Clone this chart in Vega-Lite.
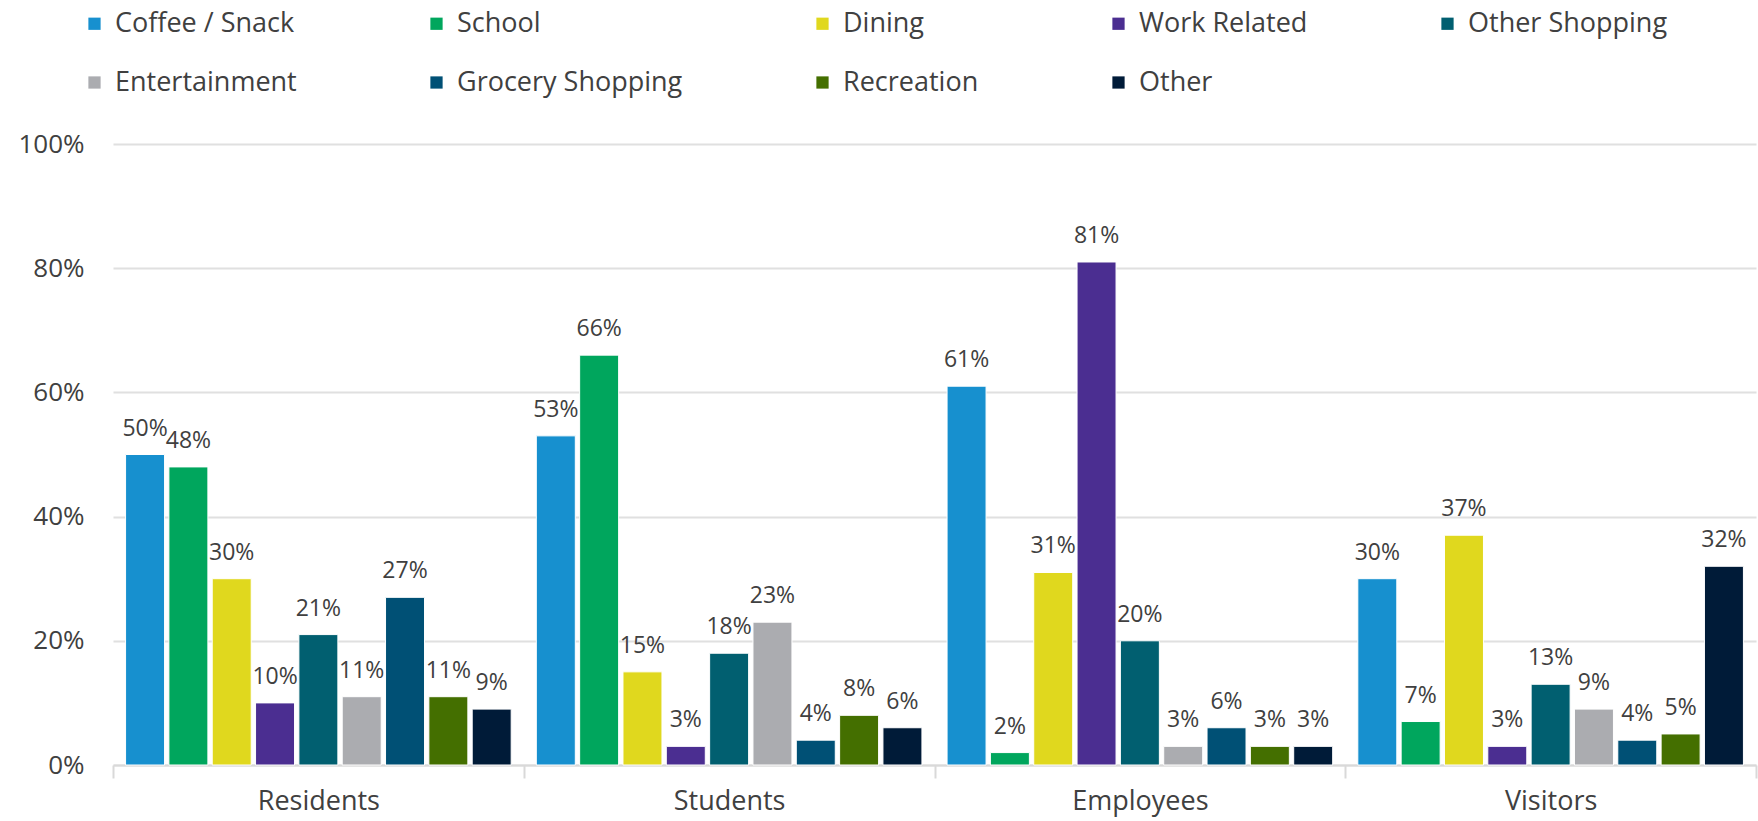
{
  "$schema": "https://vega.github.io/schema/vega-lite/v6.json",
  "autosize": "none",
  "width": 1643,
  "height": 621,
  "padding": {"left": 113, "top": 144, "right": 2, "bottom": 56},
  "background": "white",
  "config": {
    "font": "Open Sans",
    "view": {"stroke": null},
    "axis": {"labelColor": "#404040", "titleColor": "#404040"}
  },
  "data": {
    "values": [
      {"group": "Residents", "purpose": "Coffee / Snack", "share": 0.50},
      {"group": "Residents", "purpose": "School", "share": 0.48},
      {"group": "Residents", "purpose": "Dining", "share": 0.30},
      {"group": "Residents", "purpose": "Work Related", "share": 0.10},
      {"group": "Residents", "purpose": "Other Shopping", "share": 0.21},
      {"group": "Residents", "purpose": "Entertainment", "share": 0.11},
      {"group": "Residents", "purpose": "Grocery Shopping", "share": 0.27},
      {"group": "Residents", "purpose": "Recreation", "share": 0.11},
      {"group": "Residents", "purpose": "Other", "share": 0.09},
      {"group": "Students", "purpose": "Coffee / Snack", "share": 0.53},
      {"group": "Students", "purpose": "School", "share": 0.66},
      {"group": "Students", "purpose": "Dining", "share": 0.15},
      {"group": "Students", "purpose": "Work Related", "share": 0.03},
      {"group": "Students", "purpose": "Other Shopping", "share": 0.18},
      {"group": "Students", "purpose": "Entertainment", "share": 0.23},
      {"group": "Students", "purpose": "Grocery Shopping", "share": 0.04},
      {"group": "Students", "purpose": "Recreation", "share": 0.08},
      {"group": "Students", "purpose": "Other", "share": 0.06},
      {"group": "Employees", "purpose": "Coffee / Snack", "share": 0.61},
      {"group": "Employees", "purpose": "School", "share": 0.02},
      {"group": "Employees", "purpose": "Dining", "share": 0.31},
      {"group": "Employees", "purpose": "Work Related", "share": 0.81},
      {"group": "Employees", "purpose": "Other Shopping", "share": 0.20},
      {"group": "Employees", "purpose": "Entertainment", "share": 0.03},
      {"group": "Employees", "purpose": "Grocery Shopping", "share": 0.06},
      {"group": "Employees", "purpose": "Recreation", "share": 0.03},
      {"group": "Employees", "purpose": "Other", "share": 0.03},
      {"group": "Visitors", "purpose": "Coffee / Snack", "share": 0.30},
      {"group": "Visitors", "purpose": "School", "share": 0.07},
      {"group": "Visitors", "purpose": "Dining", "share": 0.37},
      {"group": "Visitors", "purpose": "Work Related", "share": 0.03},
      {"group": "Visitors", "purpose": "Other Shopping", "share": 0.13},
      {"group": "Visitors", "purpose": "Entertainment", "share": 0.09},
      {"group": "Visitors", "purpose": "Grocery Shopping", "share": 0.04},
      {"group": "Visitors", "purpose": "Recreation", "share": 0.05},
      {"group": "Visitors", "purpose": "Other", "share": 0.32}
    ]
  },
  "encoding": {
    "x": {
      "field": "group", "type": "nominal",
      "sort": ["Residents", "Students", "Employees", "Visitors"],
      "scale": {"paddingInner": 0, "paddingOuter": 0},
      "axis": {
        "title": null, "labelAngle": 0, "labelFontSize": 27, "labelPadding": 10,
        "tickBand": "extent", "tickSize": 13, "tickColor": "#d9d9d9", "tickWidth": 2,
        "domainColor": "#d9d9d9", "domainWidth": 2
      }
    },
    "xOffset": {
      "field": "purpose", "type": "nominal",
      "sort": ["Coffee / Snack", "School", "Dining", "Work Related", "Other Shopping", "Entertainment", "Grocery Shopping", "Recreation", "Other"],
      "scale": {"paddingInner": 0.1, "paddingOuter": 0.29}
    },
    "y": {
      "field": "share", "type": "quantitative",
      "scale": {"domain": [0, 1]},
      "axis": {
        "title": null, "format": ".0%", "values": [0, 0.2, 0.4, 0.6, 0.8, 1],
        "labelFontSize": 26, "labelPadding": 29, "domain": false, "ticks": false,
        "gridColor": "#e0e0e0", "gridWidth": 2
      }
    }
  },
  "layer": [
    {
      "mark": {"type": "bar", "stroke": "white", "strokeWidth": 1},
      "encoding": {
        "color": {
          "field": "purpose", "type": "nominal",
          "sort": ["Coffee / Snack", "School", "Dining", "Work Related", "Other Shopping", "Entertainment", "Grocery Shopping", "Recreation", "Other"],
          "scale": {
            "domain": ["Coffee / Snack", "School", "Dining", "Work Related", "Other Shopping", "Entertainment", "Grocery Shopping", "Recreation", "Other"],
            "range": ["#1790cf", "#00a65d", "#e0d81e", "#4b2e91", "#015f70", "#abacb0", "#005075", "#446f00", "#001b38"]
          },
          "legend": {
            "title": null, "orient": "none", "direction": "horizontal", "columns": 5,
            "legendX": -32, "legendY": -134,
            "symbolType": "square", "symbolSize": 150, "symbolStrokeWidth": 0,
            "labelFontSize": 27, "labelColor": "#404040", "labelOffset": 7, "labelLimit": 500,
            "columnPadding": 126, "rowPadding": 31, "padding": 0
          }
        }
      }
    },
    {
      "mark": {"type": "text", "baseline": "bottom", "dy": -14, "fontSize": 23, "color": "#404040"},
      "encoding": {
        "text": {"field": "share", "type": "quantitative", "format": ".0%"}
      }
    }
  ]
}
